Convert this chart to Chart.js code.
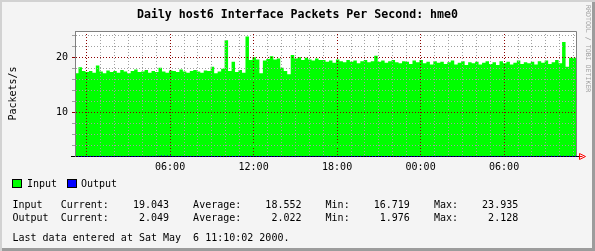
<!DOCTYPE html>
<html>
<head>
<meta charset="utf-8">
<script src="https://cdn.jsdelivr.net/npm/chart.js@4"></script>
<style>
body { margin: 0; background: #f4f4f4; }
#wrap {
    position: relative; width: 595px; height: 251px; overflow: hidden;
    background: #f4f4f4;
    box-shadow: inset 2px 2px 0 #d2d2d2, inset -3px -3px 0 #9c9c9c;
    font-family: "DejaVu Sans Mono", monospace; color: #000;
}
#graf { position: absolute; left: 0; top: 0; }
.t { position: absolute; white-space: pre; font-size: 10px; line-height: 10px; }
#titulo { position: absolute; left: 0; width: 595px; top: 9px; text-align: center;
    font-size: 11.6px; line-height: 11.6px; font-weight: bold; white-space: pre; }
#marca { position: absolute; left: 584px; top: 5px; writing-mode: vertical-rl;
    font-size: 6.6px; line-height: 7px; color: #a0a0a0; white-space: pre; }
.caja { position: absolute; width: 8px; height: 7px; border: 1px solid #000; }
</style>
</head>
<body>
<div id="wrap">
    <canvas id="graf" width="595" height="251"></canvas>
    <div id="titulo">Daily host6 Interface Packets Per Second: hme0</div>
    <div id="marca">RRDTOOL / TOBI OETIKER</div>
    <div class="caja" style="left:12px;top:179px;background:#00ff00"></div>
    <div class="t" style="left:27px;top:179px">Input</div>
    <div class="caja" style="left:67px;top:179px;background:#0000ff"></div>
    <div class="t" style="left:81px;top:179px">Output</div>
    <div class="t" id="fila1" style="left:12.5px;top:200px"></div>
    <div class="t" id="fila2" style="left:12.5px;top:212.5px"></div>
    <div class="t" style="left:12.5px;top:232.5px">Last data entered at Sat May  6 11:10:02 2000.</div>
</div>
<script>
// eje temporal en horas, 0 = 00:00 del primer dia
const inicio = -50 / 60;      // 23:10
const fin = 35 + 10 / 60;     // 11:10
const pasoEntrada = 0.25;     // 15 min
const pasoSalida = 1;

const entrada = [
    17.6, 17.2, 18.3, 17.6, 17.4, 17.6, 17.3, 18.6, 17.5, 17.2, 17.7, 17.4,
    17.6, 17.3, 17.8, 17.5, 17.2, 17.6, 17.9, 17.4, 17.5, 17.8, 17.3, 17.6,
    17.4, 18.2, 17.5, 17.3, 17.7, 17.6, 17.4, 17.9, 17.5, 17.3, 17.6, 17.8,
    17.5, 17.3, 17.7, 17.6, 18.4, 17.2, 17.5, 18.0, 23.2, 17.6, 19.3, 17.4,
    17.8, 17.3, 23.9, 19.6, 20.1, 19.7, 17.2, 19.5, 19.8, 20.3, 19.7, 19.9,
    18.2, 17.6, 17.0, 20.5, 19.9, 20.1, 19.6, 20.0, 19.7, 19.5, 19.9, 19.6,
    19.6, 19.3, 19.5, 19.1, 19.7, 19.4, 19.2, 19.6, 19.3, 19.5, 19.0, 19.4,
    19.6, 19.2, 19.4, 20.4, 19.3, 19.5, 19.1, 19.4, 19.6, 19.2, 19.0, 19.4,
    19.3, 18.9, 19.5, 19.2, 19.6, 19.0, 19.3, 18.8, 19.4, 19.1, 19.3, 18.9,
    19.2, 19.5, 18.8, 19.1, 19.4, 18.7, 19.2, 19.0, 19.3, 18.8, 19.1, 19.4,
    18.9, 19.2, 18.7, 19.4, 19.0, 19.3, 18.8, 19.1, 19.5, 18.9, 19.2, 19.0,
    19.3, 18.8, 19.4, 19.1, 19.5, 18.9, 19.2, 19.6, 19.0, 22.9, 18.4, 20.0
];
const salida = [
    2.03, 2.01, 2.02, 2.00, 2.02, 2.01, 2.03, 2.13, 2.02, 2.01, 2.02, 2.00,
    2.02, 2.03, 2.01, 2.02, 2.00, 2.02, 2.04, 2.01, 2.02, 2.03, 2.01, 2.02,
    2.00, 2.02, 2.01, 2.03, 2.02, 2.01, 2.02, 2.03, 2.01, 2.02, 2.04, 2.05, 2.05
];

const horas = Array.from({ length: 36 }, (_, i) => i);
const marcasY = [4, 6, 8, 10, 12, 14, 16, 18, 20, 22, 24];

const nombres = ['Input', 'Output'];
const actual = ['19.043', '2.049'];
const promedio = ['18.552', '2.022'];
const minimo = ['16.719', '1.976'];
const maximo = ['23.935', '2.128'];

const rojo = '#8c0000';
const gris = '#a0a0a0';

function fila(i) {
    return nombres[i].padEnd(8) + 'Current:' + actual[i].padStart(10) +
        '    Average:' + promedio[i].padStart(10) +
        '    Min:' + minimo[i].padStart(10) +
        '    Max:' + maximo[i].padStart(10);
}
document.getElementById('fila1').textContent = fila(0);
document.getElementById('fila2').textContent = fila(1);

const puntosEntrada = entrada.map((v, i) => ({ x: inicio + i * pasoEntrada, y: v }));
puntosEntrada.push({ x: fin, y: entrada[entrada.length - 1] });
const puntosSalida = salida.map((v, i) => ({ x: inicio + i * pasoSalida, y: v }));

const fuente = { family: 'DejaVu Sans Mono', size: 10 };

// fondo blanco, eje negro, marco gris y flecha roja
const marco = {
    id: 'marco',
    beforeDraw(chart) {
        const a = chart.chartArea, c = chart.ctx;
        c.save();
        c.fillStyle = '#ffffff';
        c.fillRect(a.left, a.top, a.right - a.left, a.bottom - a.top);
        c.restore();
    },
    afterDatasetDraw(chart, args) {
        if (args.index !== 0) return;
        const a = chart.chartArea, c = chart.ctx;
        c.save();
        c.strokeStyle = '#000';
        c.lineWidth = 1;
        c.beginPath();
        c.moveTo(71, a.bottom + 0.5);
        c.lineTo(a.right + 3, a.bottom + 0.5);
        c.stroke();
        c.restore();
    },
    afterDraw(chart) {
        const a = chart.chartArea, c = chart.ctx;
        c.save();
        c.strokeStyle = '#808080';
        c.lineWidth = 1;
        c.beginPath();
        c.moveTo(a.left, a.top + 0.5);
        c.lineTo(a.right + 0.5, a.top + 0.5);
        c.lineTo(a.right + 0.5, a.bottom);
        c.stroke();
        c.strokeStyle = '#ff0000';
        const x0 = a.right + 3.5, y0 = a.bottom + 0.5;
        c.beginPath();
        c.moveTo(x0, y0 - 3);
        c.lineTo(x0, y0 + 3);
        c.lineTo(x0 + 6, y0);
        c.closePath();
        c.moveTo(x0, y0);
        c.lineTo(x0 + 3, y0);
        c.stroke();
        c.restore();
    }
};

new Chart(document.getElementById('graf'), {
    type: 'line',
    data: {
        datasets: [{
            label: 'Input',
            data: puntosEntrada,
            stepped: 'after',
            fill: 'start',
            backgroundColor: '#00ff00',
            borderColor: '#00ff00',
            borderWidth: 0,
            pointRadius: 0,
            order: 2
        }, {
            label: 'Output',
            data: puntosSalida,
            stepped: 'after',
            fill: false,
            borderColor: '#0000ff',
            borderWidth: 1,
            borderDash: [1, 2],
            pointRadius: 0,
            order: 1,
            clip: 3
        }]
    },
    options: {
        responsive: false,
        animation: false,
        devicePixelRatio: 1,
        layout: { padding: { top: 31, right: 19, left: 0, bottom: 0 } },
        plugins: { legend: { display: false }, tooltip: { enabled: false } },
        scales: {
            x: {
                type: 'linear',
                min: inicio,
                max: fin,
                afterBuildTicks: s => { s.ticks = horas.map(v => ({ value: v })); },
                afterFit: s => { s.height = 95; },
                ticks: {
                    autoSkip: false,
                    maxRotation: 0,
                    padding: 5,
                    color: '#000',
                    font: fuente,
                    callback: v => (v % 6 === 0 && v > 0) ? String(v % 24).padStart(2, '0') + ':00' : ''
                },
                grid: {
                    z: 1,
                    color: c => (c.tick && c.tick.value % 6 === 0) ? rojo : gris,
                    drawTicks: false,
                    lineWidth: 1
                },
                border: { display: false, dash: [1, 2] }
            },
            y: {
                min: 2.1,
                max: 24.9,
                afterBuildTicks: s => { s.ticks = marcasY.map(v => ({ value: v })); },
                afterFit: s => { s.width = 75; },
                ticks: {
                    autoSkip: false,
                    padding: 4,
                    color: '#000',
                    font: fuente,
                    callback: v => v % 10 === 0 ? String(v) : ''
                },
                grid: {
                    z: 1,
                    color: c => (c.tick && c.tick.value % 10 === 0) ? rojo : gris,
                    tickColor: c => (c.tick && c.tick.value % 10 === 0) ? rojo : gris,
                    tickLength: 3,
                    drawTicks: true,
                    lineWidth: 1
                },
                border: { display: true, color: '#808080', dash: [1, 2], z: 1 },
                title: {
                    display: true,
                    text: 'Packets/s',
                    color: '#000',
                    font: fuente,
                    padding: { top: 7, bottom: 0 }
                }
            }
        }
    },
    plugins: [marco]
});
</script>
</body>
</html>
